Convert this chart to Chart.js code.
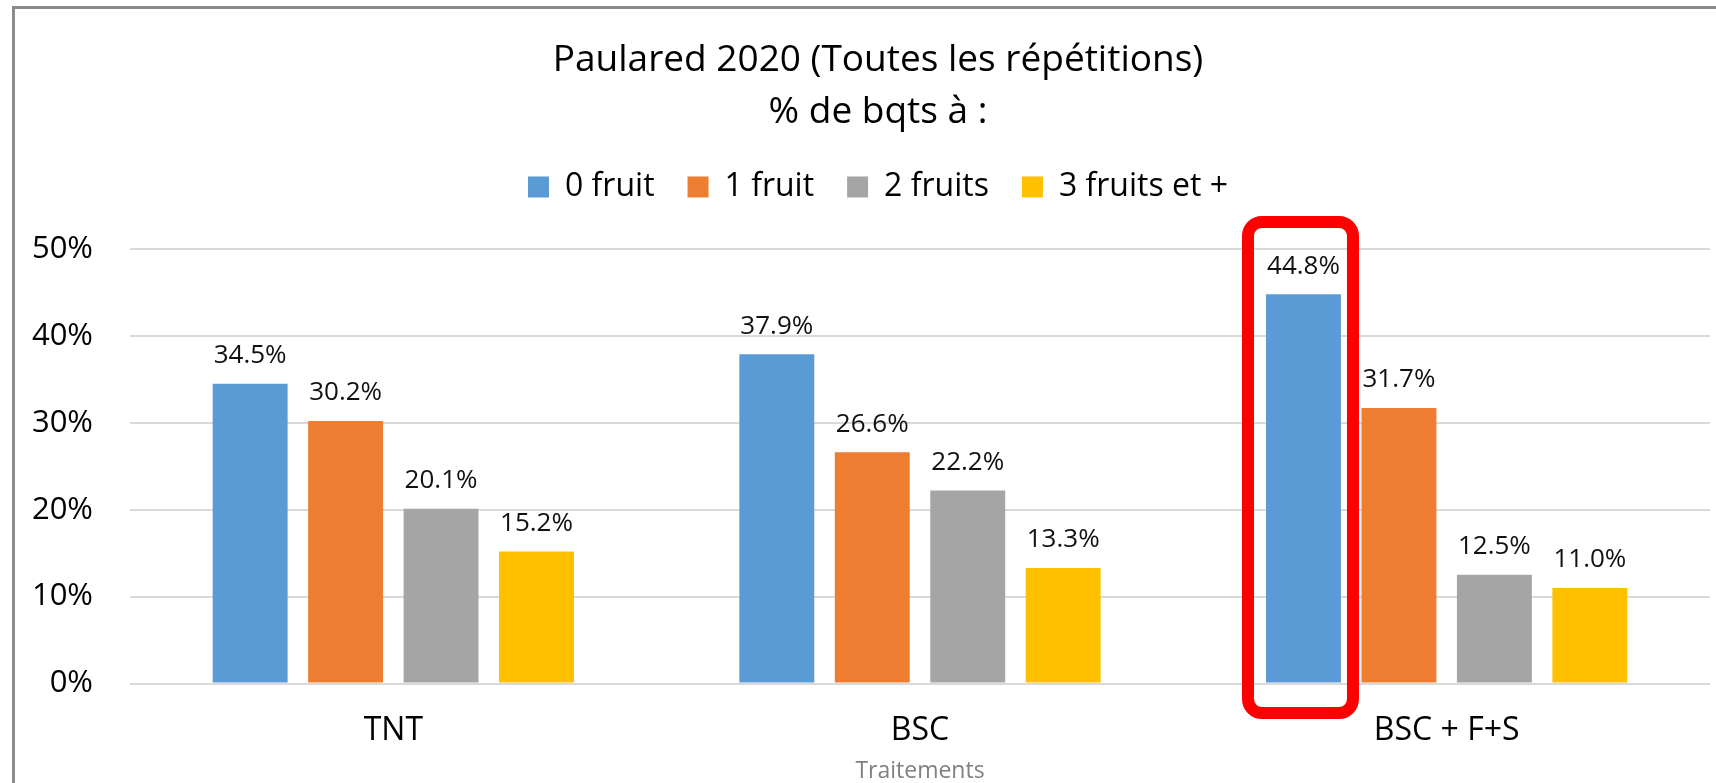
<!DOCTYPE html>
<html lang="fr">

  <head>
    <meta charset="UTF-8">
    <title>Paulared 2020 - % de bqts</title>
    <script src="https://cdn.jsdelivr.net/npm/chart.js"></script>
    <style>
      body {
        margin: 0;
        padding: 0;
        background-color: #ffffff;
        overflow: hidden;
      }

      .cadre {
        position: relative;
        width: 1716px;
        height: 783px;
      }

      /* bordure grise du graphique Excel (coupée à droite et en bas) */
      .cadre::before {
        content: '';
        position: absolute;
        left: 12px;
        top: 6px;
        right: -10px;
        bottom: -10px;
        border-left: 3px solid #8c8c8c;
        border-top: 3px solid #8c8c8c;
        pointer-events: none;
      }
    </style>
  </head>

  <body>
    <div class="cadre">
      <canvas id="paularedChart"
              width="1716"
              height="783"></canvas>
    </div>

    <script>
      // Données
      const traitements = ['TNT', 'BSC', 'BSC + F+S'];
      const zeroFruit = [34.5, 37.9, 44.8];
      const unFruit = [30.2, 26.6, 31.7];
      const deuxFruits = [20.1, 22.2, 12.5];
      const troisFruitsEtPlus = [15.2, 13.3, 11.0];
      const nomsSeries = ['0 fruit', '1 fruit', '2 fruits', '3 fruits et +'];
      const couleurs = ['#5B9BD5', '#ED7D31', '#A5A5A5', '#FFC000'];
      const ticksY = [0, 10, 20, 30, 40, 50];

      const police = '"Open Sans", "Noto Sans", sans-serif';

      // L'axe Y est étroit (pour centrer titre et légende) : on élargit sa zone de dessin
      const elargirAxeY = {
        id: 'elargirAxeY',
        afterLayout(chart) {
          chart.scales.y.left = 0;
        }
      };

      // Étiquettes de valeur au-dessus des barres
      const etiquettesValeurs = {
        id: 'etiquettesValeurs',
        afterDatasetsDraw(chart) {
          const ctx = chart.ctx;
          ctx.save();
          ctx.font = '26px ' + police;
          ctx.fillStyle = '#111111';
          ctx.textAlign = 'center';
          ctx.textBaseline = 'middle';
          chart.data.datasets.forEach((ds, i) => {
            chart.getDatasetMeta(i).data.forEach((barre, j) => {
              ctx.fillText(ds.data[j].toFixed(1) + '%', barre.x, barre.y - 28);
            });
          });
          ctx.restore();
        }
      };

      // Cadre rouge autour de la barre "0 fruit" de BSC + F+S
      const cadreRouge = {
        id: 'cadreRouge',
        afterDraw(chart) {
          const ctx = chart.ctx;
          const barre = chart.getDatasetMeta(0).data[2];
          const y = chart.scales.y;
          const gauche = barre.x - 55.5;
          const droite = barre.x + 49.5;
          const haut = y.getPixelForValue(50) - 27;
          const bas = y.getPixelForValue(0) + 29.5;
          ctx.save();
          ctx.strokeStyle = '#FF0000';
          ctx.lineWidth = 12;
          ctx.beginPath();
          ctx.roundRect(gauche, haut, droite - gauche, bas - haut, 14);
          ctx.stroke();
          ctx.restore();
        }
      };

      const datasets = [zeroFruit, unFruit, deuxFruits, troisFruitsEtPlus].map((valeurs, i) => ({
        label: nomsSeries[i],
        data: valeurs,
        backgroundColor: couleurs[i],
        borderWidth: 0,
        categoryPercentage: 0.725,
        barPercentage: 0.785,
      }));

      const ctx = document.getElementById('paularedChart').getContext('2d');
      new Chart(ctx, {
        type: 'bar',
        data: {
          labels: traitements,
          datasets: datasets,
        },
        plugins: [elargirAxeY, etiquettesValeurs, cadreRouge],
        options: {
          responsive: false,
          animation: false,
          layout: {
            padding: { left: 46, right: 6, top: 34, bottom: 0 },
          },
          plugins: {
            title: {
              display: true,
              text: ['Paulared 2020 (Toutes les répétitions)', '% de bqts à :'],
              color: '#000000',
              font: { family: police, size: 37, weight: 'normal', lineHeight: 1.405 },
              padding: 0,
            },
            legend: {
              display: true,
              position: 'top',
              labels: {
                boxWidth: 21,
                boxHeight: 21,
                padding: 33,
                color: '#000000',
                font: { family: police, size: 32 },
              },
            },
            // espace vide entre la légende et la zone de tracé
            subtitle: {
              display: true,
              text: '',
              weight: 500,
              font: { size: 10, lineHeight: 1 },
              padding: { top: 26, bottom: 0 },
            },
            tooltip: { enabled: false },
          },
          scales: {
            y: {
              min: 0,
              max: 50,
              afterFit(scale) { scale.width = 84; },
              afterBuildTicks(scale) { scale.ticks = ticksY.map(v => ({ value: v })); },
              border: { display: false },
              grid: {
                color: '#d9d9d9',
                lineWidth: 2,
                drawTicks: false,
              },
              ticks: {
                padding: 37,
                color: '#000000',
                font: { family: police, size: 31 },
                callback: (v) => v + '%',
              },
            },
            x: {
              afterFit(scale) { scale.height = 99.5; },
              border: { display: false },
              grid: { display: false, drawTicks: false },
              ticks: {
                padding: 28,
                color: '#000000',
                font: { family: police, size: 32 },
              },
              title: {
                display: true,
                text: 'Traitements',
                color: '#808080',
                font: { family: police, size: 23, lineHeight: 1 },
                padding: { top: 0, bottom: 0 },
              },
            },
          },
        },
      });
    </script>
  </body>

</html>
